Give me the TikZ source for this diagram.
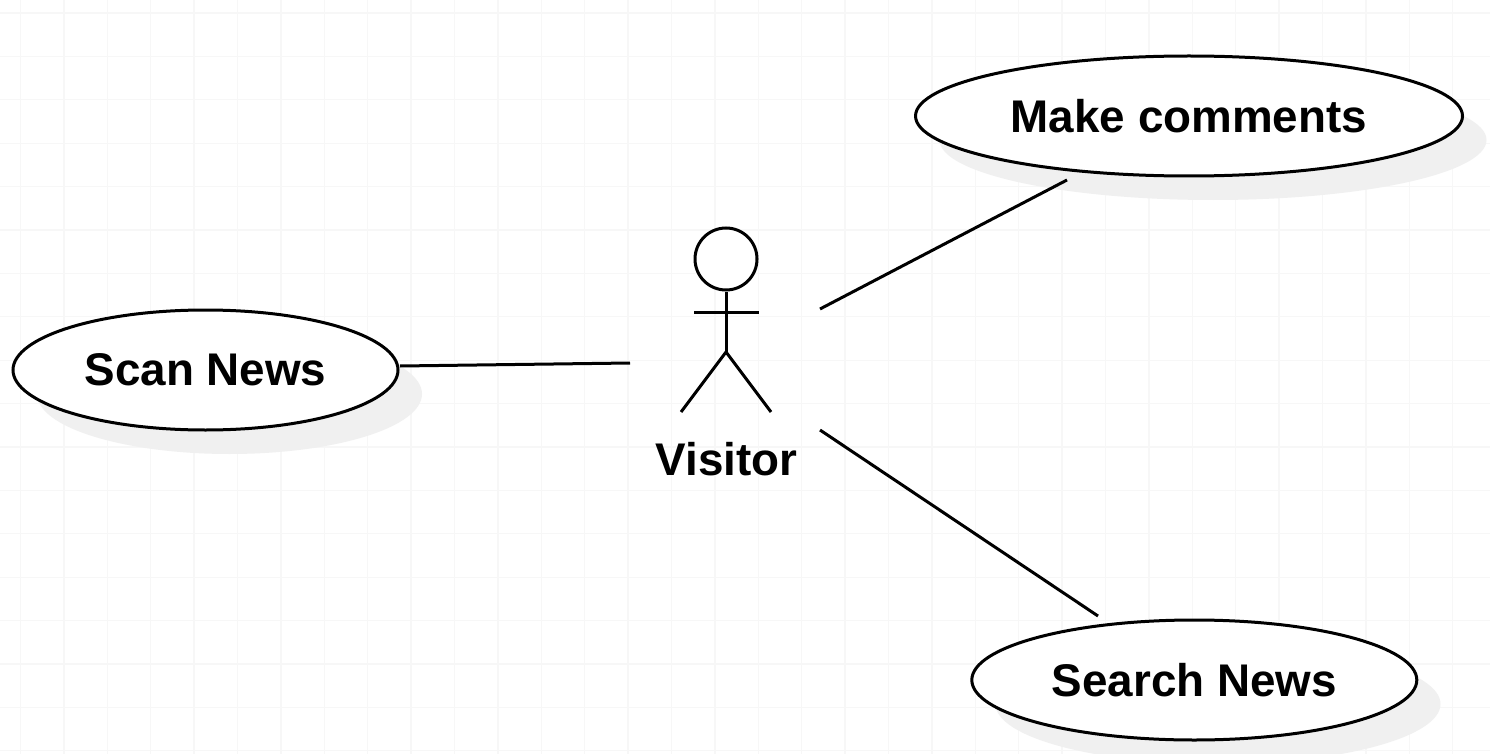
\documentclass[tikz,border=0pt]{standalone}
\usepackage{fontspec}
\setmainfont{Liberation Sans}
\usetikzlibrary{shapes.geometric}
\definecolor{gridc}{HTML}{F7F7F7}
\definecolor{shadowc}{HTML}{F0F0F0}
\tikzset{
  x=1pt,y=-1pt,
  gridline/.style={draw=gridc,line width=1.3pt},
  usecase/.style={ellipse,draw=black,fill=white,line width=3pt,inner sep=0pt,outer sep=0pt,font=\fontsize{45.8}{50}\selectfont\bfseries,minimum height=120pt},
  shadowshape/.style={ellipse,fill=shadowc,inner sep=0pt,outer sep=0pt,minimum height=120pt},
  conn/.style={draw=black,line width=3pt},
  actorline/.style={draw=black,line width=3pt},
  actorlabel/.style={font=\fontsize{45.8}{50}\selectfont\bfseries,inner sep=0pt}
}
\begin{document}
\begin{tikzpicture}
\useasboundingbox (0,0) rectangle (1490,754);
\fill[white] (0,0) rectangle (1490,754);
\foreach \i in {0,...,33} \draw[gridline] ({20.5+43.4*\i},0) -- ({20.5+43.4*\i},754);
\foreach \j in {0,...,17} \draw[gridline] (0,{13+43.4*\j}) -- (1490,{13+43.4*\j});
% shadows
\node[shadowshape,minimum width=547pt] (s1) at (1213,140) {};
\node[shadowshape,minimum width=385pt] (s2) at (229.5,394) {};
\node[shadowshape,minimum width=445pt] (s3) at (1218,704) {};
% use cases
\node[usecase,minimum width=547pt] (make) at (1189,116) {Make comments};
\node[usecase,minimum width=385pt] (scan) at (205.5,370) {Scan News};
\node[usecase,minimum width=445pt] (search) at (1194.3,680) {Search News};
% actor
\node[circle,draw=black,fill=white,line width=3pt,minimum size=62pt,inner sep=0pt] (head) at (726,259) {};
\coordinate (neck) at (726,352);
\coordinate (armL) at (694,312);
\coordinate (armR) at (759,312);
\coordinate (legL) at (681,412);
\coordinate (legR) at (771,412);
\draw[actorline] (head.south) -- (neck);
\draw[actorline] (armL) -- (armR);
\draw[actorline,line join=miter] (legL) -- (neck) -- (legR);
\node[actorlabel] (visitor) at (726.5,459.5) {Visitor};
% connectors
\coordinate (a1) at (630,363);
\coordinate (b1) at (400,366);
\coordinate (a2) at (820,309);
\coordinate (b2) at (1067,180);
\coordinate (a3) at (820,430);
\coordinate (b3) at (1098,616);
\draw[conn] (b1) -- (a1);
\draw[conn] (a2) -- (b2);
\draw[conn] (a3) -- (b3);
\end{tikzpicture}
\end{document}
